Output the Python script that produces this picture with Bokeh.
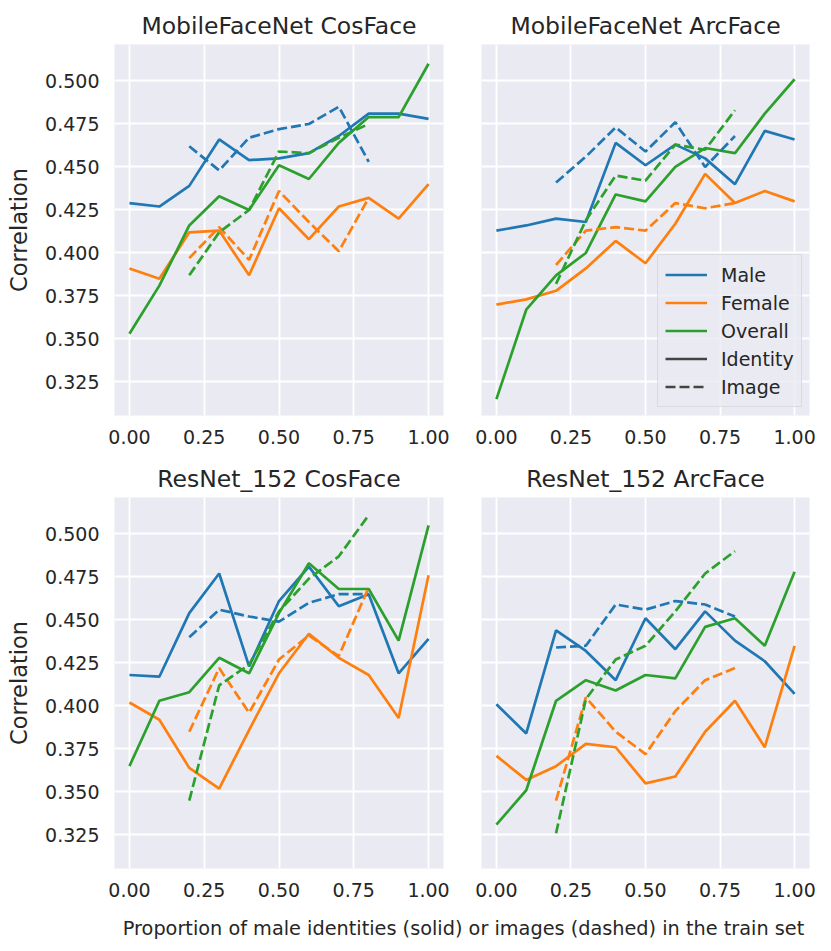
from bokeh.plotting import figure
from bokeh.models import (Range1d, FixedTicker, NumeralTickFormatter, Legend, LegendItem, Label)
from bokeh.layouts import column, row
from bokeh.embed import file_html
from bokeh.resources import INLINE

# ---------------- data ----------------
x_identity = [0.0, 0.1, 0.2, 0.3, 0.4, 0.5, 0.6, 0.7, 0.8, 0.9, 1.0]
x_image = [0.2, 0.3, 0.4, 0.5, 0.6, 0.7, 0.8]

titles = ["MobileFaceNet CosFace", "MobileFaceNet ArcFace",
          "ResNet_152 CosFace", "ResNet_152 ArcFace"]

# MobileFaceNet CosFace
mfn_cos_male_id = [0.429, 0.427, 0.439, 0.466, 0.454, 0.455, 0.458, 0.468, 0.481, 0.481, 0.478]
mfn_cos_female_id = [0.391, 0.385, 0.412, 0.413, 0.387, 0.426, 0.408, 0.427, 0.432, 0.420, 0.440]
mfn_cos_overall_id = [0.353, 0.381, 0.416, 0.433, 0.425, 0.451, 0.443, 0.464, 0.479, 0.479, 0.510]
mfn_cos_male_img = [0.462, 0.448, 0.467, 0.472, 0.475, 0.485, 0.453]
mfn_cos_female_img = [0.397, 0.415, 0.396, 0.436, 0.418, 0.401, 0.432]
mfn_cos_overall_img = [0.387, 0.412, 0.425, 0.459, 0.458, 0.467, 0.475]

# MobileFaceNet ArcFace
mfn_arc_male_id = [0.413, 0.416, 0.420, 0.418, 0.464, 0.451, 0.463, 0.455, 0.440, 0.471, 0.466]
mfn_arc_female_id = [0.370, 0.373, 0.378, 0.391, 0.407, 0.394, 0.417, 0.446, 0.429, 0.436, 0.430]
mfn_arc_overall_id = [0.315, 0.367, 0.387, 0.400, 0.434, 0.430, 0.450, 0.461, 0.458, 0.481, 0.501]
mfn_arc_male_img = [0.441, 0.456, 0.473, 0.459, 0.476, 0.450, 0.468]
mfn_arc_female_img = [0.393, 0.413, 0.415, 0.413, 0.429, 0.426, 0.429]
mfn_arc_overall_img = [0.382, 0.419, 0.445, 0.442, 0.463, 0.460, 0.483]

# ResNet_152 CosFace
rn_cos_male_id = [0.418, 0.417, 0.454, 0.477, 0.423, 0.461, 0.481, 0.458, 0.465, 0.419, 0.439]
rn_cos_female_id = [0.402, 0.392, 0.364, 0.352, 0.386, 0.419, 0.442, 0.428, 0.418, 0.393, 0.476]
rn_cos_overall_id = [0.365, 0.403, 0.408, 0.428, 0.419, 0.454, 0.483, 0.468, 0.468, 0.438, 0.505]
rn_cos_male_img = [0.440, 0.456, 0.452, 0.449, 0.460, 0.465, 0.465]
rn_cos_female_img = [0.385, 0.422, 0.396, 0.427, 0.441, 0.429, 0.469]
rn_cos_overall_img = [0.345, 0.412, 0.424, 0.455, 0.474, 0.487, 0.511]

# ResNet_152 ArcFace
rn_arc_male_id = [0.401, 0.384, 0.444, 0.432, 0.415, 0.451, 0.433, 0.455, 0.438, 0.426, 0.407]
rn_arc_female_id = [0.371, 0.357, 0.365, 0.378, 0.376, 0.355, 0.359, 0.385, 0.403, 0.376, 0.435]
rn_arc_overall_id = [0.331, 0.351, 0.403, 0.415, 0.409, 0.418, 0.416, 0.446, 0.451, 0.435, 0.478]
rn_arc_male_img = [0.434, 0.435, 0.459, 0.456, 0.461, 0.459, 0.452]
rn_arc_female_img = [0.345, 0.405, 0.385, 0.372, 0.397, 0.415, 0.422]
rn_arc_overall_img = [0.326, 0.404, 0.427, 0.435, 0.455, 0.477, 0.490]

panels = [
    (mfn_cos_male_id, mfn_cos_female_id, mfn_cos_overall_id, mfn_cos_male_img, mfn_cos_female_img, mfn_cos_overall_img),
    (mfn_arc_male_id, mfn_arc_female_id, mfn_arc_overall_id, mfn_arc_male_img, mfn_arc_female_img, mfn_arc_overall_img),
    (rn_cos_male_id, rn_cos_female_id, rn_cos_overall_id, rn_cos_male_img, rn_cos_female_img, rn_cos_overall_img),
    (rn_arc_male_id, rn_arc_female_id, rn_arc_overall_id, rn_arc_male_img, rn_arc_female_img, rn_arc_overall_img),
]

series_names = ["Male", "Female", "Overall"]
style_names = ["Identity", "Image"]
y_ticks = [0.325, 0.350, 0.375, 0.400, 0.425, 0.450, 0.475, 0.500]
x_ticks = [0.0, 0.25, 0.5, 0.75, 1.0]
y_label = "Correlation"
x_label = "Proportion of male identities (solid) or images (dashed) in the train set"

# ---------------- style ----------------
COLORS = ["#1f77b4", "#ff7f0e", "#2ca02c"]
FONT = "DejaVu Sans"
TXT = "#262626"
LW = 2.7
DASH = "10 4"


def make_panel(i, data):
    left = (i % 2 == 0)
    top = (i < 2)
    w = 460 if left else 363
    mbl = 114 if left else 21
    mbr = 17 if left else 14
    h = 457 if top else 451
    mbt = 44 if top else 40
    mbb = 42 if top else 40
    p = figure(width=w, height=h, output_backend="svg", toolbar_location=None,
               x_range=Range1d(-0.05, 1.05), y_range=Range1d(0.3055, 0.5212),
               min_border_left=mbl, min_border_right=mbr, min_border_top=mbt,
               min_border_bottom=mbb, title=titles[i])
    p.background_fill_color = "#eaeaf2"
    p.border_fill_color = "white"
    p.outline_line_color = None
    p.title.text_font = FONT
    p.title.text_font_size = "23.5px"
    p.title.text_font_style = "normal"
    p.title.text_color = TXT
    p.title.align = "center"
    p.title.standoff = 10

    p.xaxis.ticker = FixedTicker(ticks=x_ticks)
    p.xaxis.formatter = NumeralTickFormatter(format="0.00")
    p.yaxis.ticker = FixedTicker(ticks=y_ticks)
    p.yaxis.formatter = NumeralTickFormatter(format="0.000")
    p.xgrid.ticker = FixedTicker(ticks=x_ticks)
    p.ygrid.ticker = FixedTicker(ticks=y_ticks)
    for g in (p.xgrid, p.ygrid):
        g.grid_line_color = "white"
        g.grid_line_width = 1.8
    for ax in (p.xaxis, p.yaxis):
        ax.axis_line_color = None
        ax.major_tick_line_color = None
        ax.minor_tick_line_color = None
        ax.major_tick_out = 0
        ax.major_tick_in = 0
        ax.major_label_text_font = FONT
        ax.major_label_text_font_size = "19px"
        ax.major_label_text_color = TXT
    p.xaxis.major_label_standoff = 14
    p.yaxis.major_label_standoff = 15
    if left:
        p.yaxis.axis_label = y_label
        p.yaxis.axis_label_text_font = FONT
        p.yaxis.axis_label_text_font_size = "22.5px"
        p.yaxis.axis_label_text_font_style = "normal"
        p.yaxis.axis_label_text_color = TXT
        p.yaxis.axis_label_standoff = 10
    else:
        p.yaxis.visible = False

    solid = []
    for k in range(3):
        r = p.line(x_identity, data[k], line_color=COLORS[k], line_width=LW)
        solid.append(r)
    for k in range(3):
        p.line(x_image, data[3 + k], line_color=COLORS[k], line_width=LW, line_dash=DASH)

    if i == 1:
        # hidden helper renderers that only provide the legend swatches for line style
        r_id = p.line(x_identity, data[0], line_color="#444444", line_width=LW, visible=False)
        r_img = p.line(x_image, data[3], line_color="#444444", line_width=LW,
                       line_dash=DASH, visible=False)
        items = [LegendItem(label=series_names[k], renderers=[solid[k]]) for k in range(3)]
        items += [LegendItem(label=style_names[0], renderers=[r_id]),
                  LegendItem(label=style_names[1], renderers=[r_img])]
        leg = Legend(items=items, location=(176, 8))
        leg.label_text_font = FONT
        leg.label_text_font_size = "19px"
        leg.label_text_color = TXT
        leg.glyph_width = 42
        leg.glyph_height = 25
        leg.label_height = 25
        leg.spacing = 3
        leg.label_standoff = 14
        leg.padding = 7
        leg.margin = 0
        leg.background_fill_color = "#eaeaf2"
        leg.background_fill_alpha = 0.8
        leg.border_line_color = "#cccccc"
        leg.border_line_width = 1.2
        leg.inactive_fill_alpha = 0.0
        leg.click_policy = "none"
        p.add_layout(leg, "center")
    return p


figs = [make_panel(i, panels[i]) for i in range(4)]

lab = figure(width=823, height=35, output_backend="svg", toolbar_location=None,
             x_range=Range1d(0, 1), y_range=Range1d(0, 1),
             min_border_left=0, min_border_right=0, min_border_top=0, min_border_bottom=0)
lab.xaxis.visible = False
lab.yaxis.visible = False
lab.xgrid.visible = False
lab.ygrid.visible = False
lab.outline_line_color = None
lab.background_fill_color = "white"
lab.add_layout(Label(x=463, y=15, x_units="screen", y_units="screen", text=x_label,
                     text_align="center", text_baseline="middle", text_font=FONT,
                     text_font_size="19.3px", text_color=TXT))

layout = column(row(figs[0], figs[1]), row(figs[2], figs[3]), lab)

open("out.html", "w").write(file_html(layout, INLINE))
